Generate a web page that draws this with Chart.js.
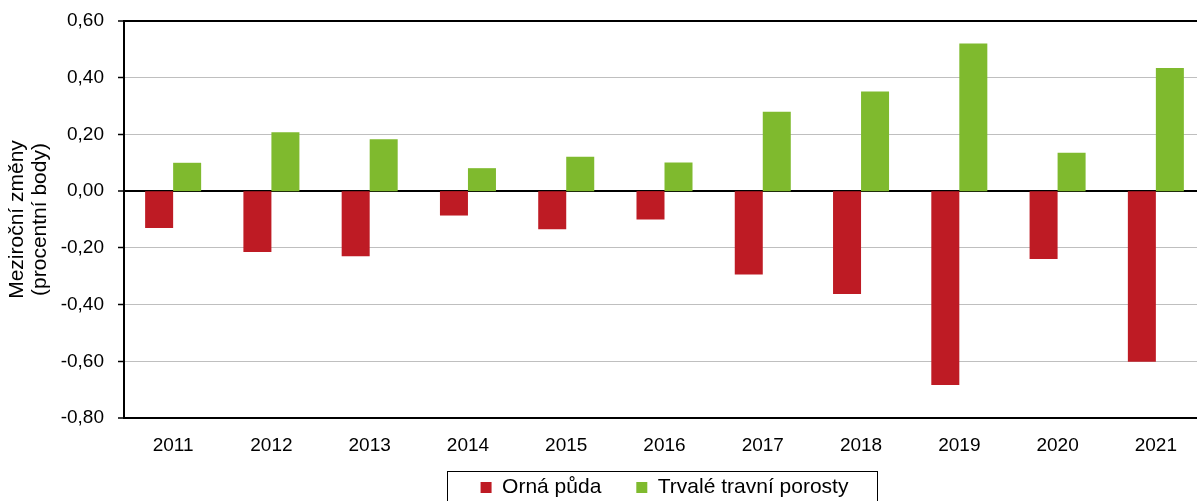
<!DOCTYPE html>
<html lang="cs">
<head>
<meta charset="utf-8">
<script src="https://cdn.jsdelivr.net/npm/chart.js@4/dist/chart.umd.min.js"></script>
<style>
  html, body { margin: 0; padding: 0; background: #fff; overflow: hidden; }
  #wrap { position: relative; width: 1205px; height: 524px; }
</style>
</head>
<body>
<div id="wrap"><canvas id="chart"></canvas></div>
<script>
// ---------- Data ----------
const years = ["2011","2012","2013","2014","2015","2016","2017","2018","2019","2020","2021"];
const ornaPuda = [-0.13, -0.215, -0.23, -0.086, -0.134, -0.10, -0.294, -0.363, -0.684, -0.239, -0.602];
const trvaleTravniPorosty = [0.10, 0.208, 0.183, 0.081, 0.121, 0.101, 0.280, 0.351, 0.521, 0.135, 0.434];
const seriesNames = ["Orná půda", "Trvalé travní porosty"];
const yTitle = ["Meziroční změny", "(procentní body)"];

const FONT = '"Liberation Sans", Arial, sans-serif';
const RED = '#BE1B24';
const GREEN = '#7FBA2E';
const LEGEND_SHIFT = 16;

function fmt(v) {
  if (Math.abs(v) < 1e-9) v = 0;
  return v.toFixed(2).replace('.', ',');
}
function isEdge(v) {
  return Math.abs(v) < 1e-9 || Math.abs(v - 0.6) < 1e-9 || Math.abs(v + 0.8) < 1e-9;
}

// posun legendy nahoru + rámeček kolem ní
const legendFrame = {
  id: 'legendFrame',
  afterLayout(chart) {
    const lg = chart.legend;
    if (!lg) return;
    lg.top -= LEGEND_SHIFT;
    lg.bottom -= LEGEND_SHIFT;
  },
  afterDraw(chart) {
    const lg = chart.legend;
    if (!lg || !lg.legendHitBoxes || !lg.legendHitBoxes.length) return;
    const hb = lg.legendHitBoxes;
    const first = hb[0], last = hb[hb.length - 1];
    const left = first.left - 33.5;
    const right = last.left + last.width + 29;
    const top = first.top - 6;
    const ctx = chart.ctx;
    ctx.save();
    ctx.strokeStyle = '#000';
    ctx.lineWidth = 1;
    ctx.strokeRect(Math.round(left) + 0.5, Math.round(top) + 0.5, Math.round(right - left), chart.height);
    ctx.restore();
  }
};

new Chart(document.getElementById('chart'), {
  type: 'bar',
  data: {
    labels: years,
    datasets: [
      { label: seriesNames[0], data: ornaPuda, backgroundColor: RED },
      { label: seriesNames[1], data: trvaleTravniPorosty, backgroundColor: GREEN }
    ]
  },
  options: {
    responsive: true,
    maintainAspectRatio: false,
    animation: false,
    layout: { padding: { top: 21, left: 0, right: 0, bottom: 0 } },
    datasets: { bar: { barPercentage: 1, categoryPercentage: 0.57 } },
    plugins: {
      tooltip: { enabled: false },
      legend: {
        position: 'bottom',
        fullSize: false,
        labels: {
          font: { family: FONT, size: 21 },
          color: '#000',
          boxWidth: 11,
          boxHeight: 11,
          padding: 35
        }
      }
    },
    scales: {
      x: {
        grid: { display: false },
        border: { display: true, color: '#000', width: 2 },
        ticks: { font: { family: FONT, size: 19 }, color: '#000', padding: 8, maxRotation: 0 },
        afterFit: (s) => { s.height = 40; }
      },
      y: {
        min: -0.8,
        max: 0.6,
        ticks: {
          stepSize: 0.2,
          font: { family: FONT, size: 19 },
          color: '#000',
          padding: 14,
          callback: (v) => fmt(v)
        },
        grid: {
          color: (c) => isEdge(c.tick.value) ? '#000' : '#BFBFBF',
          lineWidth: (c) => isEdge(c.tick.value) ? 2 : 1,
          tickColor: '#000',
          tickWidth: 1.5,
          tickLength: 6
        },
        border: { display: true, color: '#000', width: 2 },
        title: {
          display: true,
          text: yTitle,
          font: { family: FONT, size: 21, lineHeight: 1.1 },
          color: '#000',
          padding: { top: 5.5, bottom: 0 }
        },
        afterFit: (s) => { s.width = 124; s.paddingTop = 0; s.paddingBottom = 0; }
      }
    }
  },
  plugins: [legendFrame]
});
</script>
</body>
</html>
